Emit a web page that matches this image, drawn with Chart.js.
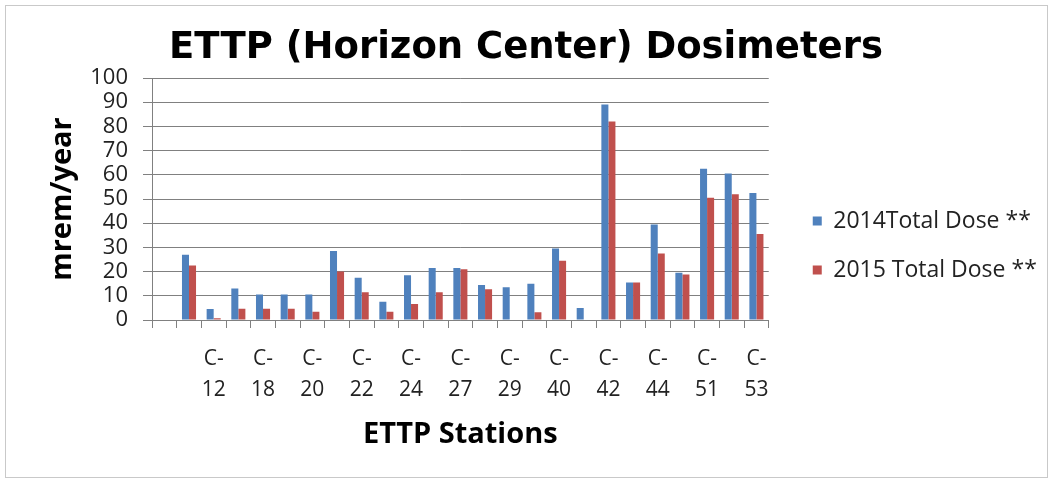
<!DOCTYPE html>
<html>
<head>
<meta charset="utf-8">
<script src="https://cdn.jsdelivr.net/npm/chart.js@4.4.1/dist/chart.umd.min.js"></script>
<style>
  body { margin: 0; background: #fff; }
  #frame { position: absolute; left: 5px; top: 5px; width: 1041px; height: 471px; border: 1px solid #c9c9c9; }
  #wrap { position: absolute; left: 0; top: 0; width: 1052px; height: 482px; }
</style>
</head>
<body>
<div id="frame"></div>
<div id="wrap"><canvas id="doseChart" width="1052" height="482"></canvas></div>
<script>
// stations (only every other name is readable on the axis, others left blank)
const stations = ['', '', 'C-12', '', 'C-18', '', 'C-20', '', 'C-22', '', 'C-24', '', 'C-27',
                  '', 'C-29', '', 'C-40', '', 'C-42', '', 'C-44', '', 'C-51', '', 'C-53'];

const dose2014 = [null, 27, 4.5, 13, 10.5, 10.5, 10.5, 28.5, 17.5, 7.5, 18.5, 21.5, 21.5,
                  14.5, 13.5, 15, 29.5, 5, 89, 15.5, 39.5, 19.5, 62.5, 60.5, 52.5];
const dose2015 = [null, 22.5, 0.7, 4.7, 4.7, 4.7, 3.4, 20, 11.5, 3.4, 6.6, 11.5, 21,
                  12.7, 0, 3.2, 24.5, 0, 82, 15.5, 27.5, 18.8, 50.5, 52, 35.5];

const yTicks = [0, 10, 20, 30, 40, 50, 60, 70, 80, 90, 100];

const gridGray = '#808080';

// legend sits a bit away from the plot, title is centred on the whole picture
const tweakBoxes = {
    id: 'tweakBoxes',
    afterLayout(chart) {
        chart.legend.left += 18;
        chart.legend.right += 18;
        chart.titleBlock.left = 0;
        chart.titleBlock.right = chart.width;
    }
};

const config = {
    type: 'bar',
    data: {
        labels: stations.map(s => s ? s.split('-').map((p, i) => i === 0 ? p + '-' : p) : ''),
        datasets: [{
            label: '2014Total Dose **',
            data: dose2014,
            backgroundColor: '#4f81bd',
            categoryPercentage: 0.57,
            barPercentage: 1
        }, {
            label: '2015 Total Dose **',
            data: dose2015,
            backgroundColor: '#c0504d',
            categoryPercentage: 0.57,
            barPercentage: 1
        }]
    },
    options: {
        responsive: false,
        animation: false,
        layout: { padding: { left: 0, right: 27, top: 0, bottom: 0 } },
        plugins: {
            title: {
                display: true,
                text: 'ETTP (Horizon Center) Dosimeters',
                color: '#000',
                font: { family: 'DejaVu Sans', size: 37, weight: 'bold' },
                padding: { top: 26, bottom: 7.6 }
            },
            legend: {
                position: 'right',
                align: 'center',
                title: { display: true, text: '', font: { size: 5 }, padding: { top: 3, bottom: 0 } },
                labels: {
                    color: '#222',
                    font: { family: 'Open Sans', size: 23 },
                    boxWidth: 9,
                    boxHeight: 9,
                    padding: 26
                }
            },
            tooltip: { enabled: false }
        },
        scales: {
            x: {
                afterFit(scale) { scale.height = 162; },
                grid: { display: true, drawOnChartArea: false, color: gridGray, tickLength: 8 },
                border: { color: gridGray },
                ticks: {
                    autoSkip: false,
                    maxRotation: 0,
                    color: '#222',
                    padding: 16,
                    font: { family: 'Open Sans', size: 21, lineHeight: 1.45 }
                },
                title: {
                    display: true,
                    text: 'ETTP Stations',
                    color: '#000',
                    font: { family: 'Open Sans', size: 29, weight: 'bold' },
                    padding: { top: 0, bottom: 30 }
                }
            },
            y: {
                min: 0,
                max: 100,
                afterFit(scale) { scale.width = 152; },
                afterBuildTicks(scale) { scale.ticks = yTicks.map(v => ({ value: v })); },
                grid: { color: gridGray, tickLength: 9 },
                border: { color: gridGray },
                ticks: {
                    autoSkip: false,
                    color: '#222',
                    padding: 15,
                    font: { family: 'Open Sans', size: 22 }
                },
                title: {
                    display: true,
                    text: 'mrem/year',
                    color: '#000',
                    font: { family: 'Open Sans', size: 29, weight: 'bold' },
                    padding: { top: 45.6, bottom: 0 }
                }
            }
        }
    },
    plugins: [tweakBoxes]
};

const doseChart = new Chart(document.getElementById('doseChart'), config);
</script>
</body>
</html>
